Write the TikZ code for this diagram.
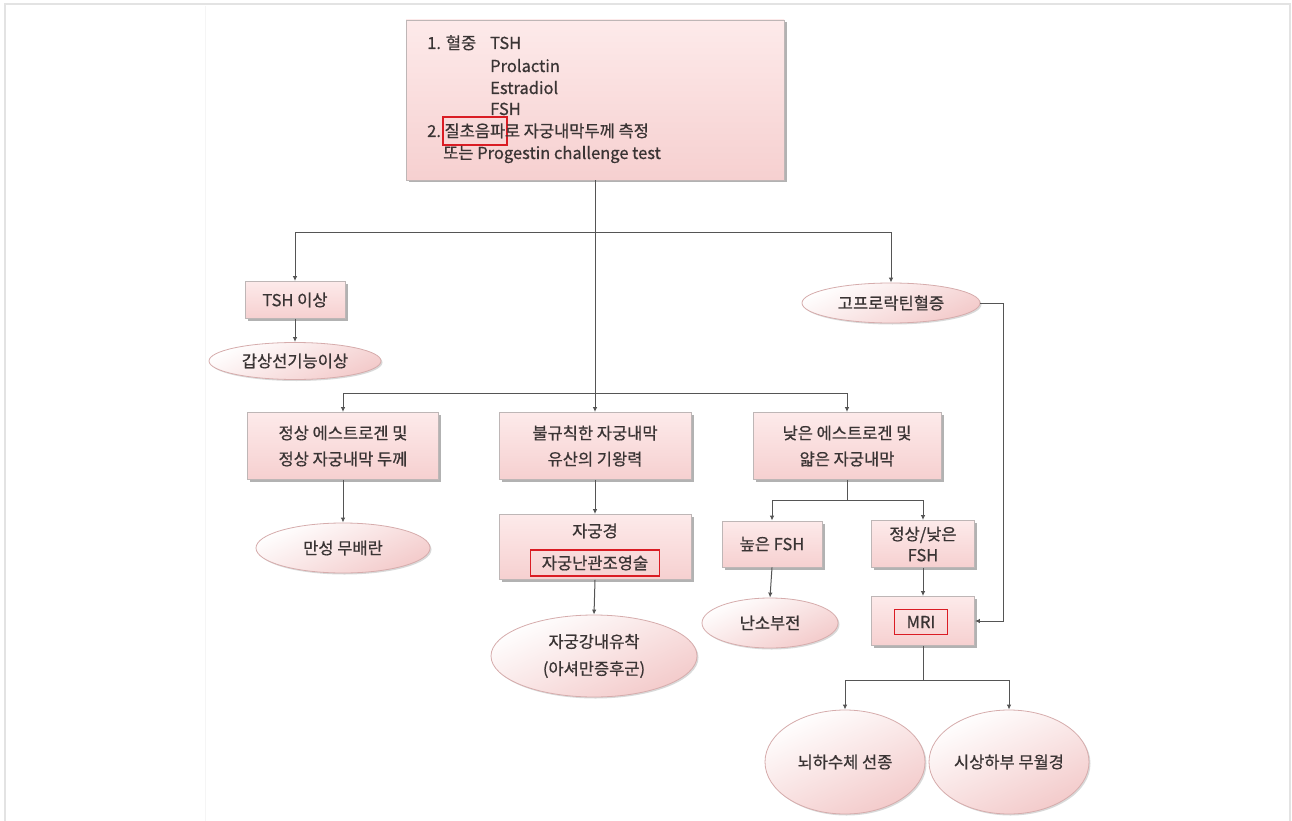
\documentclass[tikz,border=0pt]{standalone}
\usepackage{fontspec}
\setmainfont{Noto Sans CJK KR}[FakeBold=0.7]
\usetikzlibrary{arrows.meta,shapes.geometric,shadows}
\definecolor{txt}{RGB}{58,52,52}
\definecolor{lin}{RGB}{85,85,85}
\definecolor{boxline}{RGB}{190,182,182}
\definecolor{boxT}{RGB}{253,234,234}
\definecolor{boxB}{RGB}{246,208,208}
\definecolor{ellline}{RGB}{214,172,172}
\definecolor{ellB}{RGB}{243,202,202}
\definecolor{redb}{RGB}{218,28,36}
\tikzset{
  box/.style={rectangle, draw=boxline, line width=0.8pt, top color=boxT, bottom color=boxB,
    drop shadow={shadow xshift=2.5pt, shadow yshift=-2.5pt, fill=black, opacity=0.3},
    inner sep=0pt, text=txt, align=center, font=\fontsize{16.5}{26}\selectfont},
  ell/.style={ellipse, draw=ellline, line width=0.8pt, top color=white, bottom color=ellB, shading angle=25,
    drop shadow={shadow xshift=1.5pt, shadow yshift=-1.5pt, fill=black, opacity=0.15},
    inner sep=0pt, text=txt, align=center, font=\fontsize{16.5}{27}\selectfont},
  txtn/.style={inner sep=0pt, text=txt, font=\fontsize{16.5}{22}\selectfont, anchor=base west},
  redbox/.style={draw=redb, line width=1.8pt, inner ysep=0pt, text=txt, font=\fontsize{16.5}{22}\selectfont},
  arr/.style={draw=lin, line width=1pt, -{Latex[length=5pt,width=4.5pt]}},
  ln/.style={draw=lin, line width=1pt}
}
\begin{document}
\begin{tikzpicture}[x=1pt,y=-1pt]
\useasboundingbox (0,0) rectangle (1292,821);
\fill[white] (0,0) rectangle (1292,821);
\draw[gray!22, line width=2pt] (5,4) rectangle (1290,830);
\draw[gray!8, line width=1pt] (205,6) -- (205,821);

% top box
\node[box, minimum width=378pt, minimum height=160pt] (T) at (595,100) {};
\node[txtn] (t1) at (427,49) {1. 혈중};
\node[txtn] (t2) at (490,49) {TSH};
\node[txtn] (t3) at (490,72) {Prolactin};
\node[txtn] (t4) at (490,94) {Estradiol};
\node[txtn] (t5) at (490,115) {FSH};
\node[txtn] (t6) at (427,137) {2.};
\node[redbox, anchor=base west, minimum height=28pt, inner xsep=1.5pt] (t7) at ([xshift=1pt]t6.base east) {질초음파};
\node[txtn] (t8) at ([xshift=-3pt]t7.base east) {로 자궁내막두께 측정};
\node[txtn] (t9) at (443,159) {또는 Progestin challenge test};

% second level
\node[box, minimum width=100pt, minimum height=37pt] (TSH) at (295,300) {TSH 이상};
\node[ell, minimum width=172pt, minimum height=37pt] (TE) at (295,361) {갑상선기능이상};
\node[ell, minimum width=178pt, minimum height=40pt] (HP) at (891,303) {고프로락틴혈증};

% third level
\node[box, minimum width=191pt, minimum height=67pt] (L1) at (343,446) {정상 에스트로겐 및\\정상 자궁내막 두께};
\node[ell, minimum width=174pt, minimum height=50pt] (L2) at (343,548) {만성 무배란};

\node[box, minimum width=192pt, minimum height=67pt] (M1) at (595,446) {불규칙한 자궁내막\\유산의 기왕력};
\node[box, minimum width=192pt, minimum height=65pt] (M2) at (595,547) {};
\node[txtn, anchor=center] (m2a) at (595,531) {자궁경};
\node[redbox, minimum width=129pt, minimum height=26pt, inner xsep=0pt] (m2b) at (595,563) {자궁난관조영술};
\node[ell, minimum width=206pt, minimum height=82pt] (M3) at (594,656) {자궁강내유착\\(아셔만증후군)};

\node[box, minimum width=188pt, minimum height=67pt] (R1) at (847,446) {낮은 에스트로겐 및\\얇은 자궁내막};
\node[box, minimum width=100pt, minimum height=46pt] (RF1) at (772,544) {높은 FSH};
\node[box, minimum width=103pt, minimum height=47pt, font=\fontsize{16.5}{21}\selectfont] (RF2) at (923,544) {정상/낮은\\FSH};
\node[ell, minimum width=136pt, minimum height=50pt] (RE) at (770,623) {난소부전};
\node[box, minimum width=103pt, minimum height=49pt] (MRI) at (923,621) {};
\node[redbox, minimum width=53pt, minimum height=25pt, inner xsep=0pt] (mri) at (921,622) {MRI};

\node[ell, minimum width=160pt, minimum height=104pt] (BE1) at (845,762) {뇌하수체 선종};
\node[ell, minimum width=160pt, minimum height=104pt] (BE2) at (1009,762) {시상하부 무월경};

% connectors
\coordinate (j1) at (595,232);
\coordinate (j2) at (595,393);
\coordinate (j3) at (847,500);
\coordinate (j4) at (923,680);
\coordinate (jr) at (1003,303);

\draw[arr] (T.south) -- (M1.north);
\draw[arr] (j1) -| (TSH.north);
\draw[arr] (j1) -| (HP.north);
\draw[arr] (TSH.south) -- (TE.north);
\draw[arr] (j2) -| (L1.north);
\draw[arr] (j2) -| (R1.north);
\draw[arr] (L1.south) -- (L2.north);
\draw[arr] (M1.south) -- (M2.north);
\draw[arr] (M2.south) -- (M3.north);
\draw[ln] (R1.south) -- (j3);
\draw[arr] (j3) -| (RF1.north);
\draw[arr] (j3) -| (RF2.north);
\draw[arr] (RF1.south) -- (RE.north);
\draw[arr] (RF2.south) -- (MRI.north);
\draw[ln] (MRI.south) -- (j4);
\draw[arr] (j4) -| (BE1.north);
\draw[arr] (j4) -| (BE2.north);
\draw[arr] (HP.east) -- (jr) -- (jr |- MRI.east) -- (MRI.east);
\end{tikzpicture}
\end{document}
